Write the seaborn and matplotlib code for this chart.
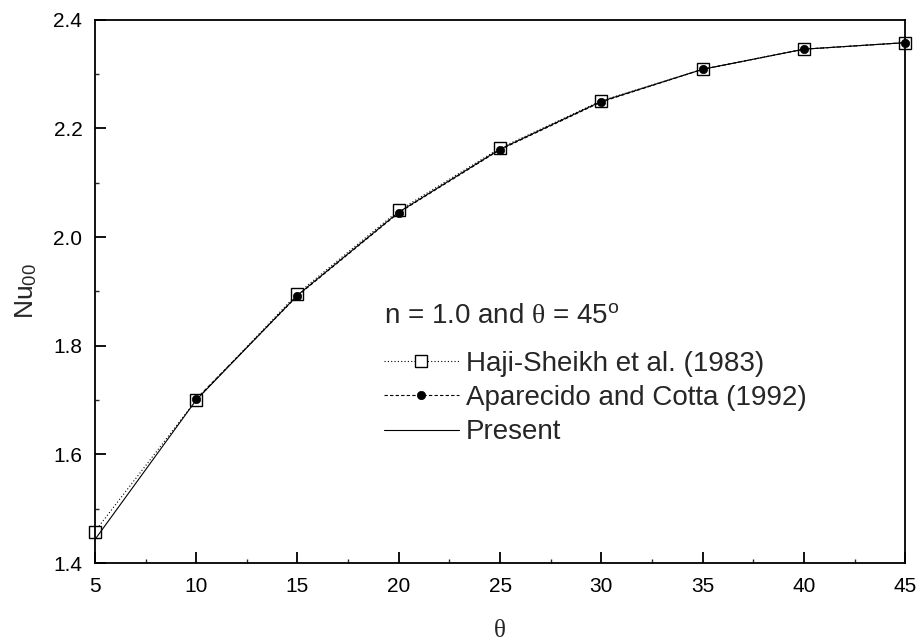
import matplotlib
matplotlib.use("Agg")
import matplotlib.pyplot as plt
import seaborn as sns
import pandas as pd
from matplotlib.ticker import MultipleLocator, FormatStrFormatter

theta_haji = [5, 10, 15, 20, 25, 30, 35, 40, 45]
nu_haji = [1.458, 1.700, 1.896, 2.049, 2.164, 2.251, 2.309, 2.346, 2.358]

theta_apar = [10, 15, 20, 25, 30, 35, 40, 45]
nu_apar = [1.702, 1.892, 2.045, 2.161, 2.249, 2.309, 2.346, 2.358]

theta_present = [5, 10, 15, 20, 25, 30, 35, 40, 45]
nu_present = [1.443, 1.700, 1.893, 2.046, 2.162, 2.250, 2.309, 2.346, 2.358]

labels = ["Haji-Sheikh et al. (1983)", "Aparecido and Cotta (1992)", "Present"]
legend_title = r"n = 1.0 and $\theta$ = 45$^{\rm o}$"

sns.set_style("ticks")
plt.rcParams["font.family"] = ["Liberation Sans", "DejaVu Sans"]
plt.rcParams["mathtext.fontset"] = "custom"
plt.rcParams["mathtext.rm"] = "Liberation Sans"
plt.rcParams["mathtext.it"] = "Liberation Serif"
plt.rcParams["mathtext.bf"] = "Liberation Sans:bold"

fig = plt.figure(figsize=(9.21, 6.4), dpi=100)
ax = fig.add_axes([0.103, 0.1203, 0.880, 0.8487])

df_h = pd.DataFrame({"x": theta_haji, "y": nu_haji})
df_a = pd.DataFrame({"x": theta_apar, "y": nu_apar})
df_p = pd.DataFrame({"x": theta_present, "y": nu_present})

sns.lineplot(data=df_h, x="x", y="y", ax=ax, color="black", lw=0.8,
             linestyle=(0, (1, 2)), marker="s", markersize=8,
             markerfacecolor="white", markeredgecolor="black",
             markeredgewidth=1.0, label=labels[0], zorder=2, clip_on=False)
sns.lineplot(data=df_a, x="x", y="y", ax=ax, color="black", lw=0.8,
             linestyle=(0, (3, 2)), marker="o", markersize=6,
             markerfacecolor="black", markeredgecolor="black",
             markeredgewidth=0.5, label=labels[1], zorder=3, clip_on=False)
sns.lineplot(data=df_p, x="x", y="y", ax=ax, color="black", lw=0.8,
             linestyle="-", label=labels[2], zorder=4)

ax.set_xlim(5, 45)
ax.set_ylim(1.4, 2.4)
ax.xaxis.set_major_locator(MultipleLocator(5))
ax.xaxis.set_minor_locator(MultipleLocator(2.5))
ax.yaxis.set_major_locator(MultipleLocator(0.2))
ax.yaxis.set_minor_locator(MultipleLocator(0.1))
ax.yaxis.set_major_formatter(FormatStrFormatter("%.1f"))

ax.tick_params(axis="both", which="major", direction="in", length=8,
               width=1.3, labelsize=15, colors="black")
ax.tick_params(axis="x", which="major", pad=10)
ax.tick_params(axis="y", which="major", pad=9)
ax.tick_params(axis="both", which="minor", direction="in", length=3,
               width=1.0)
ax.tick_params(top=False, right=False, which="both")
for s in ax.spines.values():
    s.set_linewidth(1.3)
    s.set_color("black")

ax.set_xlabel("θ", fontsize=18, family=["Liberation Serif", "DejaVu Serif"], labelpad=17)
ax.set_ylabel(r"Nu$_{00}$", fontsize=19, labelpad=10)

leg = ax.legend(title=legend_title, loc="upper left",
                bbox_to_anchor=(0.343, 0.50), frameon=False,
                fontsize=20, title_fontsize=20, handlelength=2.7,
                handletextpad=0.25, labelspacing=0.3, borderaxespad=0)
leg._legend_box.align = "left"
leg._legend_box.sep = 16

fig.savefig("out.png", dpi=100)
